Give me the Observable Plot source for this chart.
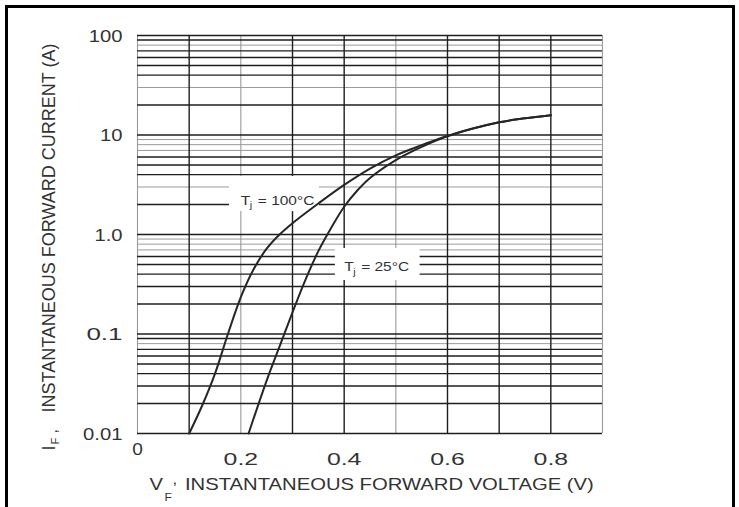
<!DOCTYPE html>
<html><head><meta charset="utf-8">
<script src="https://cdn.jsdelivr.net/npm/d3@7"></script>
<script src="https://cdn.jsdelivr.net/npm/@observablehq/plot@0.6"></script>
<style>
html,body{margin:0;padding:0;background:#fff;}
#wrap{position:relative;width:739px;height:507px;overflow:hidden;background:#fff;}
#border{position:absolute;left:5px;top:5px;width:730px;height:540px;border:3px solid #000;box-sizing:border-box;pointer-events:none;}
</style></head><body><div id="wrap"><div id="border"></div></div>
<script>
// ---- data ----
const voltage100 = [0.100, 0.125, 0.150, 0.175, 0.200, 0.225, 0.250, 0.275, 0.300, 0.350, 0.400, 0.450, 0.500, 0.550, 0.600, 0.700, 0.750, 0.800];
const current100 = [0.010, 0.019, 0.040, 0.100, 0.235, 0.450, 0.720, 1.00, 1.30, 2.05, 3.15, 4.6, 6.25, 7.9, 9.8, 13.4, 14.7, 15.8];
const voltage25 = [0.215, 0.250, 0.275, 0.300, 0.325, 0.350, 0.375, 0.400, 0.425, 0.450, 0.500, 0.550, 0.600, 0.700, 0.750, 0.800];
const current25 = [0.010, 0.034, 0.075, 0.165, 0.350, 0.680, 1.17, 1.90, 2.75, 3.7, 5.6, 7.6, 9.7, 13.4, 14.7, 15.8];

const yTickValues = [100, 10, 1, 0.1, 0.01];
const yTickLabels = ["100", "10", "1.0", "0.1", "0.01"];
const xTickValues = [0.2, 0.4, 0.6, 0.8];
const xTickLabels = ["0.2", "0.4", "0.6", "0.8"];
const xZeroLabel = ["0"];

const yGridDark = [100, 90, 70, 60, 50, 40, 20, 10, 6, 5, 4, 2, 1, 0.6, 0.5, 0.4, 0.3, 0.2, 0.1, 0.09, 0.07, 0.06, 0.05, 0.04, 0.03, 0.02, 0.01];
const yGridLight = [80, 30, 9, 8, 7, 3, 0.9, 0.8, 0.7, 0.08];
const xGridDark = [0.1, 0.3, 0.4, 0.6, 0.7, 0.8];
const xGridLight = [0, 0.2, 0.5, 0.9];

const labelX = [0.2, 0.4];
const labelY = [2.2, 0.469];
const labelRest = ["= 100°C", "= 25°C"];
const boxX1 = [0.178, 0.383];
const boxX2 = [0.352, 0.547];
const boxY1 = [1.70, 0.345];
const boxY2 = [3.83, 0.723];

const xTitle = "INSTANTANEOUS FORWARD VOLTAGE (V)";
const yTitle = "INSTANTANEOUS FORWARD CURRENT (A)";

// ---- tables ----
const rows100 = voltage100.map((v, i) => ({v, i: current100[i]}));
const rows25 = voltage25.map((v, i) => ({v, i: current25[i]}));
const labels = labelX.map((x, i) => ({x, y: labelY[i], rest: labelRest[i]}));
const boxes = boxX1.map((x1, i) => ({x1, x2: boxX2[i], y1: boxY1[i], y2: boxY2[i]}));

const ink = "#333";
const chart = Plot.plot({
  width: 739, height: 507,
  marginLeft: 137, marginRight: 137, marginTop: 35, marginBottom: 74,
  style: {fontFamily: "'Liberation Sans', Arial, sans-serif", background: "transparent"},
  x: {domain: [0, 0.9], axis: null},
  y: {type: "log", domain: [0.01, 100], axis: null},
  marks: [
    Plot.ruleY(yGridLight, {stroke: "#9a9a9a", strokeWidth: 1}),
    Plot.ruleX(xGridLight, {stroke: "#9a9a9a", strokeWidth: 1.1}),
    Plot.ruleY(yGridDark, {stroke: "#1e1e1e", strokeWidth: 1.4}),
    Plot.ruleX(xGridDark, {stroke: "#1e1e1e", strokeWidth: 1.4}),
    Plot.rect(boxes, {x1: "x1", x2: "x2", y1: "y1", y2: "y2", fill: "white"}),
    Plot.line(rows100, {x: "v", y: "i", curve: "catmull-rom", stroke: "#262626", strokeWidth: 2}),
    Plot.line(rows25, {x: "v", y: "i", curve: "catmull-rom", stroke: "#262626", strokeWidth: 2}),
    // curve labels
    Plot.text(labels, {x: "x", y: "y", text: () => "T", textAnchor: "start", fontSize: 13, fill: ink}),
    Plot.text(labels, {x: "x", y: "y", text: () => "j", textAnchor: "start", fontSize: 9, dx: 9, dy: 5, fill: ink}),
    Plot.text(labels, {x: "x", y: "y", text: "rest", textAnchor: "start", fontSize: 13, dx: 17, fill: ink}),
    // y tick labels
    Plot.text(yTickValues, {y: d => d, text: (d, i) => yTickLabels[i], frameAnchor: "left", textAnchor: "end", dx: -15, dy: 1, fontSize: 17, fill: ink}),
    // x tick labels
    Plot.text(xTickValues, {x: d => d, text: (d, i) => xTickLabels[i], frameAnchor: "bottom", dy: 31, fontSize: 16, fill: ink}),
    Plot.text(xZeroLabel, {x: () => 0, frameAnchor: "bottom", dy: 21, fontSize: 16, fill: ink}),
    // x title
    Plot.text(["V"], {frameAnchor: "bottom-left", textAnchor: "start", dx: 12, dy: 56, fontSize: 17, fill: ink}),
    Plot.text(["F"], {frameAnchor: "bottom-left", textAnchor: "start", dx: 27, dy: 67, fontSize: 10, fill: ink}),
    Plot.text([","], {frameAnchor: "bottom-left", textAnchor: "start", dx: 35, dy: 50, fontSize: 14, fill: ink}),
    Plot.text([xTitle], {frameAnchor: "bottom-left", textAnchor: "start", dx: 47.5, dy: 56, fontSize: 17, fill: ink}),
    // y title (rotated)
    Plot.text(["I"], {frameAnchor: "left", textAnchor: "start", rotate: -90, dx: -88, dy: 216, fontSize: 18, fill: ink}),
    Plot.text(["F"], {frameAnchor: "left", textAnchor: "start", rotate: -90, dx: -82, dy: 210, fontSize: 11, fill: ink}),
    Plot.text([","], {frameAnchor: "left", textAnchor: "start", rotate: -90, dx: -86, dy: 199, fontSize: 16, fill: ink}),
    Plot.text([yTitle], {frameAnchor: "left", textAnchor: "start", rotate: -90, dx: -88, dy: 178, fontSize: 18, fill: ink})
  ]
});
document.getElementById("wrap").appendChild(chart);

// the scanned reference is stretched horizontally: widen horizontal texts
const stretch = 1.19;
chart.querySelectorAll("text").forEach(t => {
  const tr = (t.getAttribute("transform") || "") + (t.parentNode.getAttribute("transform") || "");
  if (tr.includes("rotate")) return;
  const L = t.getComputedTextLength();
  if (!L) return;
  const extra = /^0\.\d$/.test(t.textContent) ? 8 : 0;
  t.setAttribute("textLength", (L * stretch + extra).toFixed(1));
  t.setAttribute("lengthAdjust", "spacingAndGlyphs");
});
</script>
</body></html>
